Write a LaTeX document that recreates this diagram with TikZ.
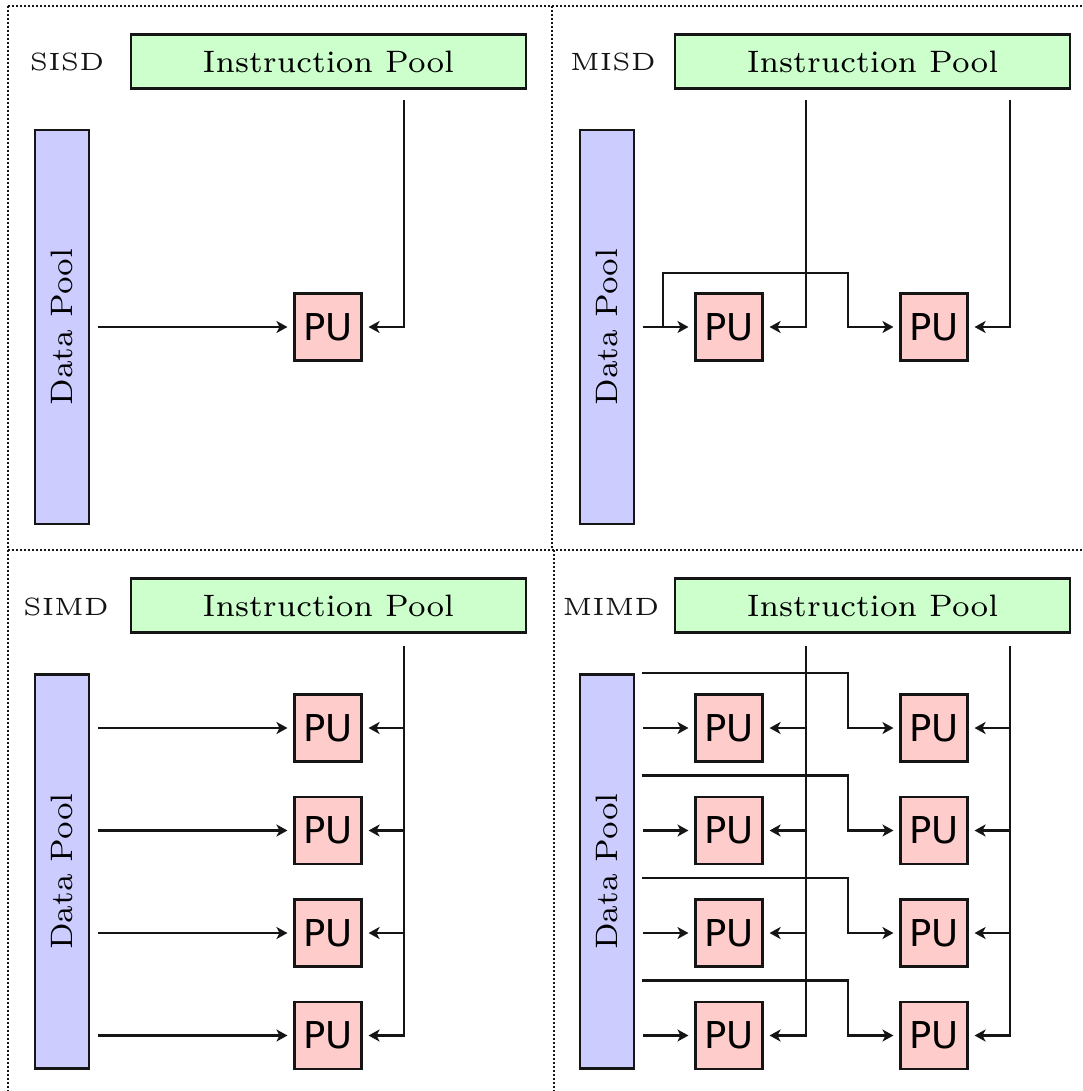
\documentclass[tikz,border=0pt]{standalone}
\usepackage{fontspec}
\newfontfamily\pufont{DejaVu Sans}
\usetikzlibrary{arrows.meta}
\definecolor{ipgreen}{HTML}{CCFFCC}
\definecolor{dpblue}{HTML}{CCCCFF}
\definecolor{pured}{HTML}{FFCCCC}
\definecolor{ink}{HTML}{151515}
\newcommand\iptext[1]{\scalebox{4.43}{\fontsize{7}{8}\selectfont #1}}
\newcommand\lbltext[1]{\scalebox{5}{\fontsize{5}{6}\selectfont #1}}
\tikzset{
  ipbox/.style={draw=ink, line width=2.1pt, fill=ipgreen, minimum width=395pt, minimum height=54pt, inner sep=0pt},
  dpbox/.style={draw=ink, line width=2.1pt, fill=dpblue, minimum width=54pt, minimum height=394pt, inner sep=0pt},
  pubox/.style={draw=ink, line width=2.1pt, fill=pured, minimum size=67pt, inner sep=0pt, font=\pufont\fontsize{37}{40}\selectfont},
  lbl/.style={inner sep=0pt, text=ink},
  wire/.style={draw=ink, line width=2.4pt},
  arr/.style={wire, -{Stealth[length=11pt,width=12pt,inset=3pt]}, shorten >=6pt},
  frame/.style={draw=ink, line width=1.5pt, dash pattern=on 1.6pt off 2.4pt}
}
\begin{document}
\begin{tikzpicture}[x=1pt,y=1pt]
\useasboundingbox (0,0) rectangle (1082,-1091);
% frame
\draw[frame] (8,-6) -- (1082,-6);
\draw[frame] (8,-6) -- (8,-1091);
\draw[frame] (552,-6) -- (552,-550);
\draw[frame] (8,-550) -- (1082,-550);
\draw[frame] (554,-550) -- (554,-1091);

% ---------- SISD ----------
\node[lbl] (l1) at (67,-62) {\lbltext{SISD}};
\node[ipbox] (ip1) at (328.5,-61.5) {\iptext{Instruction Pool}};
\node[dpbox] (dp1) at (62,-327) {\rotatebox{90}{\iptext{Data Pool}}};
\node[pubox] (p1) at (328,-327) {PU};
\coordinate (i1) at (404,-100);
\draw[arr] (i1) |- (p1);
\draw[arr, shorten <=8pt] (dp1.east |- p1) -- (p1);

% ---------- MISD ----------
\node[lbl] (l2) at (613,-62) {\lbltext{MISD}};
\node[ipbox] (ip2) at (872.5,-61.5) {\iptext{Instruction Pool}};
\node[dpbox] (dp2) at (607,-327) {\rotatebox{90}{\iptext{Data Pool}}};
\node[pubox] (p21) at (729,-327) {PU};
\node[pubox] (p22) at (934,-327) {PU};
\coordinate (i21) at (806,-100);
\coordinate (i22) at (1010,-100);
\draw[arr] (i21) |- (p21);
\draw[arr] (i22) |- (p22);
\draw[arr, shorten <=8pt] (dp2.east |- p21) -- (p21);
\coordinate (b2) at (663,-327);
\coordinate (c2) at (848,-273);
\draw[arr] (b2) |- (c2) |- (p22);

% ---------- SIMD ----------
\node[lbl] (l3) at (66,-607) {\lbltext{SIMD}};
\node[ipbox] (ip3) at (328.5,-605.5) {\iptext{Instruction Pool}};
\node[dpbox] (dp3) at (62,-871.5) {\rotatebox{90}{\iptext{Data Pool}}};
\foreach \k/\y in {1/728,2/830.5,3/933,4/1035.5}{
  \node[pubox] (p3\k) at (328,-\y) {PU};
}
\coordinate (i3) at (404,-646);
\draw[arr] (i3) |- (p34);
\foreach \k in {1,2,3}{
  \draw[arr] (i3 |- p3\k) -- (p3\k);
}
\foreach \k in {1,2,3,4}{
  \draw[arr, shorten <=8pt] (dp3.east |- p3\k) -- (p3\k);
}

% ---------- MIMD ----------
\node[lbl] (l4) at (611,-607) {\lbltext{MIMD}};
\node[ipbox] (ip4) at (872.5,-605.5) {\iptext{Instruction Pool}};
\node[dpbox] (dp4) at (607,-871.5) {\rotatebox{90}{\iptext{Data Pool}}};
\foreach \k/\y in {1/728,2/830.5,3/933,4/1035.5}{
  \node[pubox] (p4\k a) at (729,-\y) {PU};
  \node[pubox] (p4\k b) at (934,-\y) {PU};
  \coordinate (s4\k) at (642,-\y+55);
  \coordinate (c4\k) at (848,-\y+55);
}
\coordinate (i41) at (806,-646);
\coordinate (i42) at (1010,-646);
\foreach \k in {1,2,3,4}{
  \draw[arr] (s4\k) -- (c4\k) |- (p4\k b);
}
\draw[arr] (i41) |- (p44a);
\draw[arr] (i42) |- (p44b);
\foreach \k in {1,2,3}{
  \draw[arr] (i41 |- p4\k a) -- (p4\k a);
  \draw[arr] (i42 |- p4\k b) -- (p4\k b);
}
\foreach \k in {1,2,3,4}{
  \draw[arr, shorten <=8pt] (dp4.east |- p4\k a) -- (p4\k a);
}
\end{tikzpicture}
\end{document}
